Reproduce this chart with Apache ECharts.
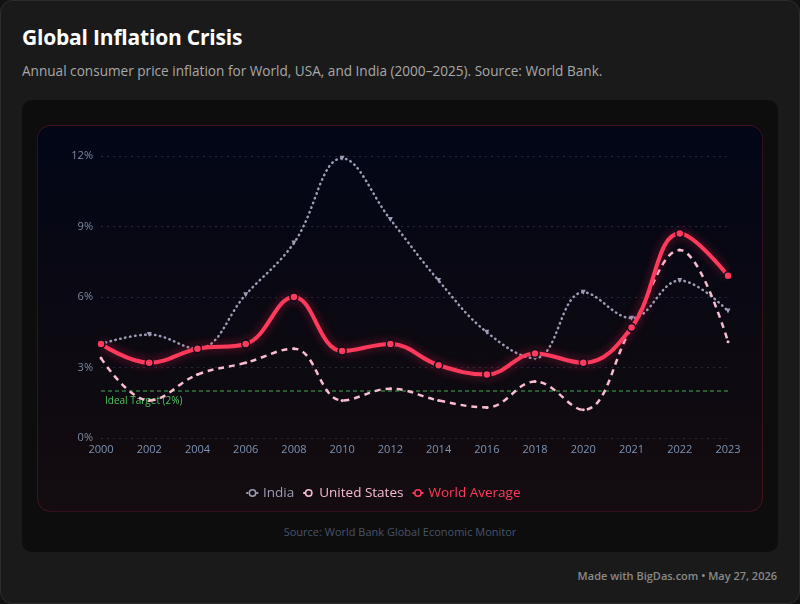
<!DOCTYPE html>
<html>
<head>
<meta charset="utf-8">
<script src="https://cdn.jsdelivr.net/npm/echarts@6/dist/echarts.min.js"></script>
<style>
  html, body { margin: 0; padding: 0; background: #121212; }
  body { width: 800px; height: 604px; position: relative; overflow: hidden; font-family: "Open Sans", "Noto Sans", sans-serif; }
  .frame { position: absolute; left: 0; top: 0; width: 798px; height: 602px; background: #1a1a1a; border: 1px solid #2c2c2c; border-radius: 12px; }
  .title { position: absolute; left: 22px; top: 23px; font-size: 21px; font-weight: 700; color: #ffffff; letter-spacing: -0.2px; }
  .subtitle { position: absolute; left: 22px; top: 61px; font-size: 13.6px; color: #a8a8a8; }
  .card { position: absolute; left: 22px; top: 100px; width: 756px; height: 452px; background: #0d0d0d; border-radius: 10px; }
  .chartbox { position: absolute; left: 37px; top: 125px; width: 724px; height: 385px; border-radius: 14px;
    border: 1px solid rgba(200, 40, 70, 0.25);
    background: linear-gradient(180deg, #020617 0%, #0b0912 50%, #140c10 100%); }
  #chart { position: absolute; left: 0; top: 0; width: 724px; height: 385px; }
  .source { position: absolute; left: 0; width: 800px; top: 524px; text-align: center; font-size: 11px; color: #48536a; }
  .made { position: absolute; right: 23px; top: 568px; font-size: 11px; font-weight: 600; color: #8a8a8a; }
</style>
</head>
<body>
<div class="frame"></div>
<div class="title">Global Inflation Crisis</div>
<div class="subtitle">Annual consumer price inflation for World, USA, and India (2000–2025). Source: World Bank.</div>
<div class="card"></div>
<div class="chartbox"><div id="chart"></div></div>
<div class="source">Source: World Bank Global Economic Monitor</div>
<div class="made">Made with BigDas.com • May 27, 2026</div>
<script>
const years = ['2000', '2002', '2004', '2006', '2008', '2010', '2012', '2014', '2016', '2018', '2020', '2021', '2022', '2023'];
const india = [4.0, 4.4, 3.8, 6.1, 8.3, 11.9, 9.3, 6.7, 4.5, 3.4, 6.2, 5.1, 6.7, 5.4];
const unitedStates = [3.4, 1.6, 2.7, 3.2, 3.8, 1.6, 2.1, 1.6, 1.3, 2.4, 1.2, 4.7, 8.0, 4.1];
const worldAverage = [4.0, 3.2, 3.8, 4.0, 6.0, 3.7, 4.0, 3.1, 2.7, 3.6, 3.2, 4.7, 8.7, 6.9];
// ideal inflation target, 2% for every year
const idealTarget = [2, 2, 2, 2, 2, 2, 2, 2, 2, 2, 2, 2, 2, 2];
const yTicks = [0, 3, 6, 9, 12];

const colors = { india: '#9d9db6', us: '#f9bcd0', world: '#ff3a5c', target: '#3fae50' };

const chart = echarts.init(document.getElementById('chart'));

function legendItem(name, color) {
  return {
    name: name,
    textStyle: { color: color },
    itemStyle: { color: '#140c12', borderColor: color, borderWidth: 1.5 },
  };
}

const option = {
  backgroundColor: 'transparent',
  animation: false,
  textStyle: { fontFamily: 'Open Sans, Noto Sans, sans-serif' },
  grid: { left: 63, right: 34, top: 30, bottom: 73 },
  legend: {
    bottom: 6,
    left: 203,
    itemWidth: 11,
    itemHeight: 8,
    itemGap: 8,
    textStyle: { fontSize: 13.5 },
    data: [
      legendItem('India', colors.india),
      legendItem('United States', colors.us),
      legendItem('World Average', colors.world),
    ],
  },
  xAxis: {
    type: 'category',
    boundaryGap: false,
    data: years,
    axisLine: { show: false },
    axisTick: { show: false },
    axisLabel: { color: '#7d93b2', fontSize: 11, margin: 6 },
  },
  yAxis: {
    type: 'value',
    min: 0,
    max: 12,
    interval: 3,
    axisLabel: {
      color: '#7d8aa3',
      fontSize: 11,
      formatter: function (v) {
        return yTicks.indexOf(v) >= 0 ? v + '%' : '';
      },
    },
    axisLine: { show: false },
    axisTick: { show: false },
    splitLine: { lineStyle: { color: '#262a3a', type: [2, 4] } },
  },
  series: [
    {
      name: 'Ideal Target',
      type: 'line',
      silent: true,
      symbol: 'circle',
      symbolSize: 0,
      data: idealTarget.map(function (v, i) {
        if (i !== 0) return v;
        return {
          value: v,
          label: {
            show: true,
            position: 'right',
            distance: 4,
            offset: [0, 10],
            formatter: 'Ideal Target (2%)',
            color: '#4cc45c',
            fontSize: 10,
          },
        };
      }),
      itemStyle: { color: colors.target },
      lineStyle: { color: colors.target, width: 1, type: [4, 3] },
      z: 1,
    },
    {
      name: 'India',
      type: 'line',
      smooth: 0.4,
      symbol: 'circle',
      data: india.map(function (v) {
        return { value: v, symbol: 'triangle', symbolRotate: 180, symbolSize: 5 };
      }),
      itemStyle: { color: colors.india },
      lineStyle: { color: colors.india, width: 2.5, type: [0.5, 4.5], cap: 'round' },
      z: 2,
    },
    {
      name: 'United States',
      type: 'line',
      smooth: 0.4,
      data: unitedStates,
      symbol: 'circle',
      symbolSize: 3,
      itemStyle: { color: colors.us },
      lineStyle: { color: colors.us, width: 2.5, type: [6, 5] },
      z: 3,
    },
    {
      name: 'World Average',
      type: 'line',
      smooth: 0.4,
      data: worldAverage,
      symbol: 'circle',
      symbolSize: 8,
      itemStyle: { color: colors.world, borderColor: '#0a0a1a', borderWidth: 1.5 },
      lineStyle: {
        color: colors.world,
        width: 4,
        shadowColor: 'rgba(255, 40, 80, 0.5)',
        shadowBlur: 10,
      },
      z: 4,
    },
  ],
};

chart.setOption(option);
</script>
</body>
</html>
